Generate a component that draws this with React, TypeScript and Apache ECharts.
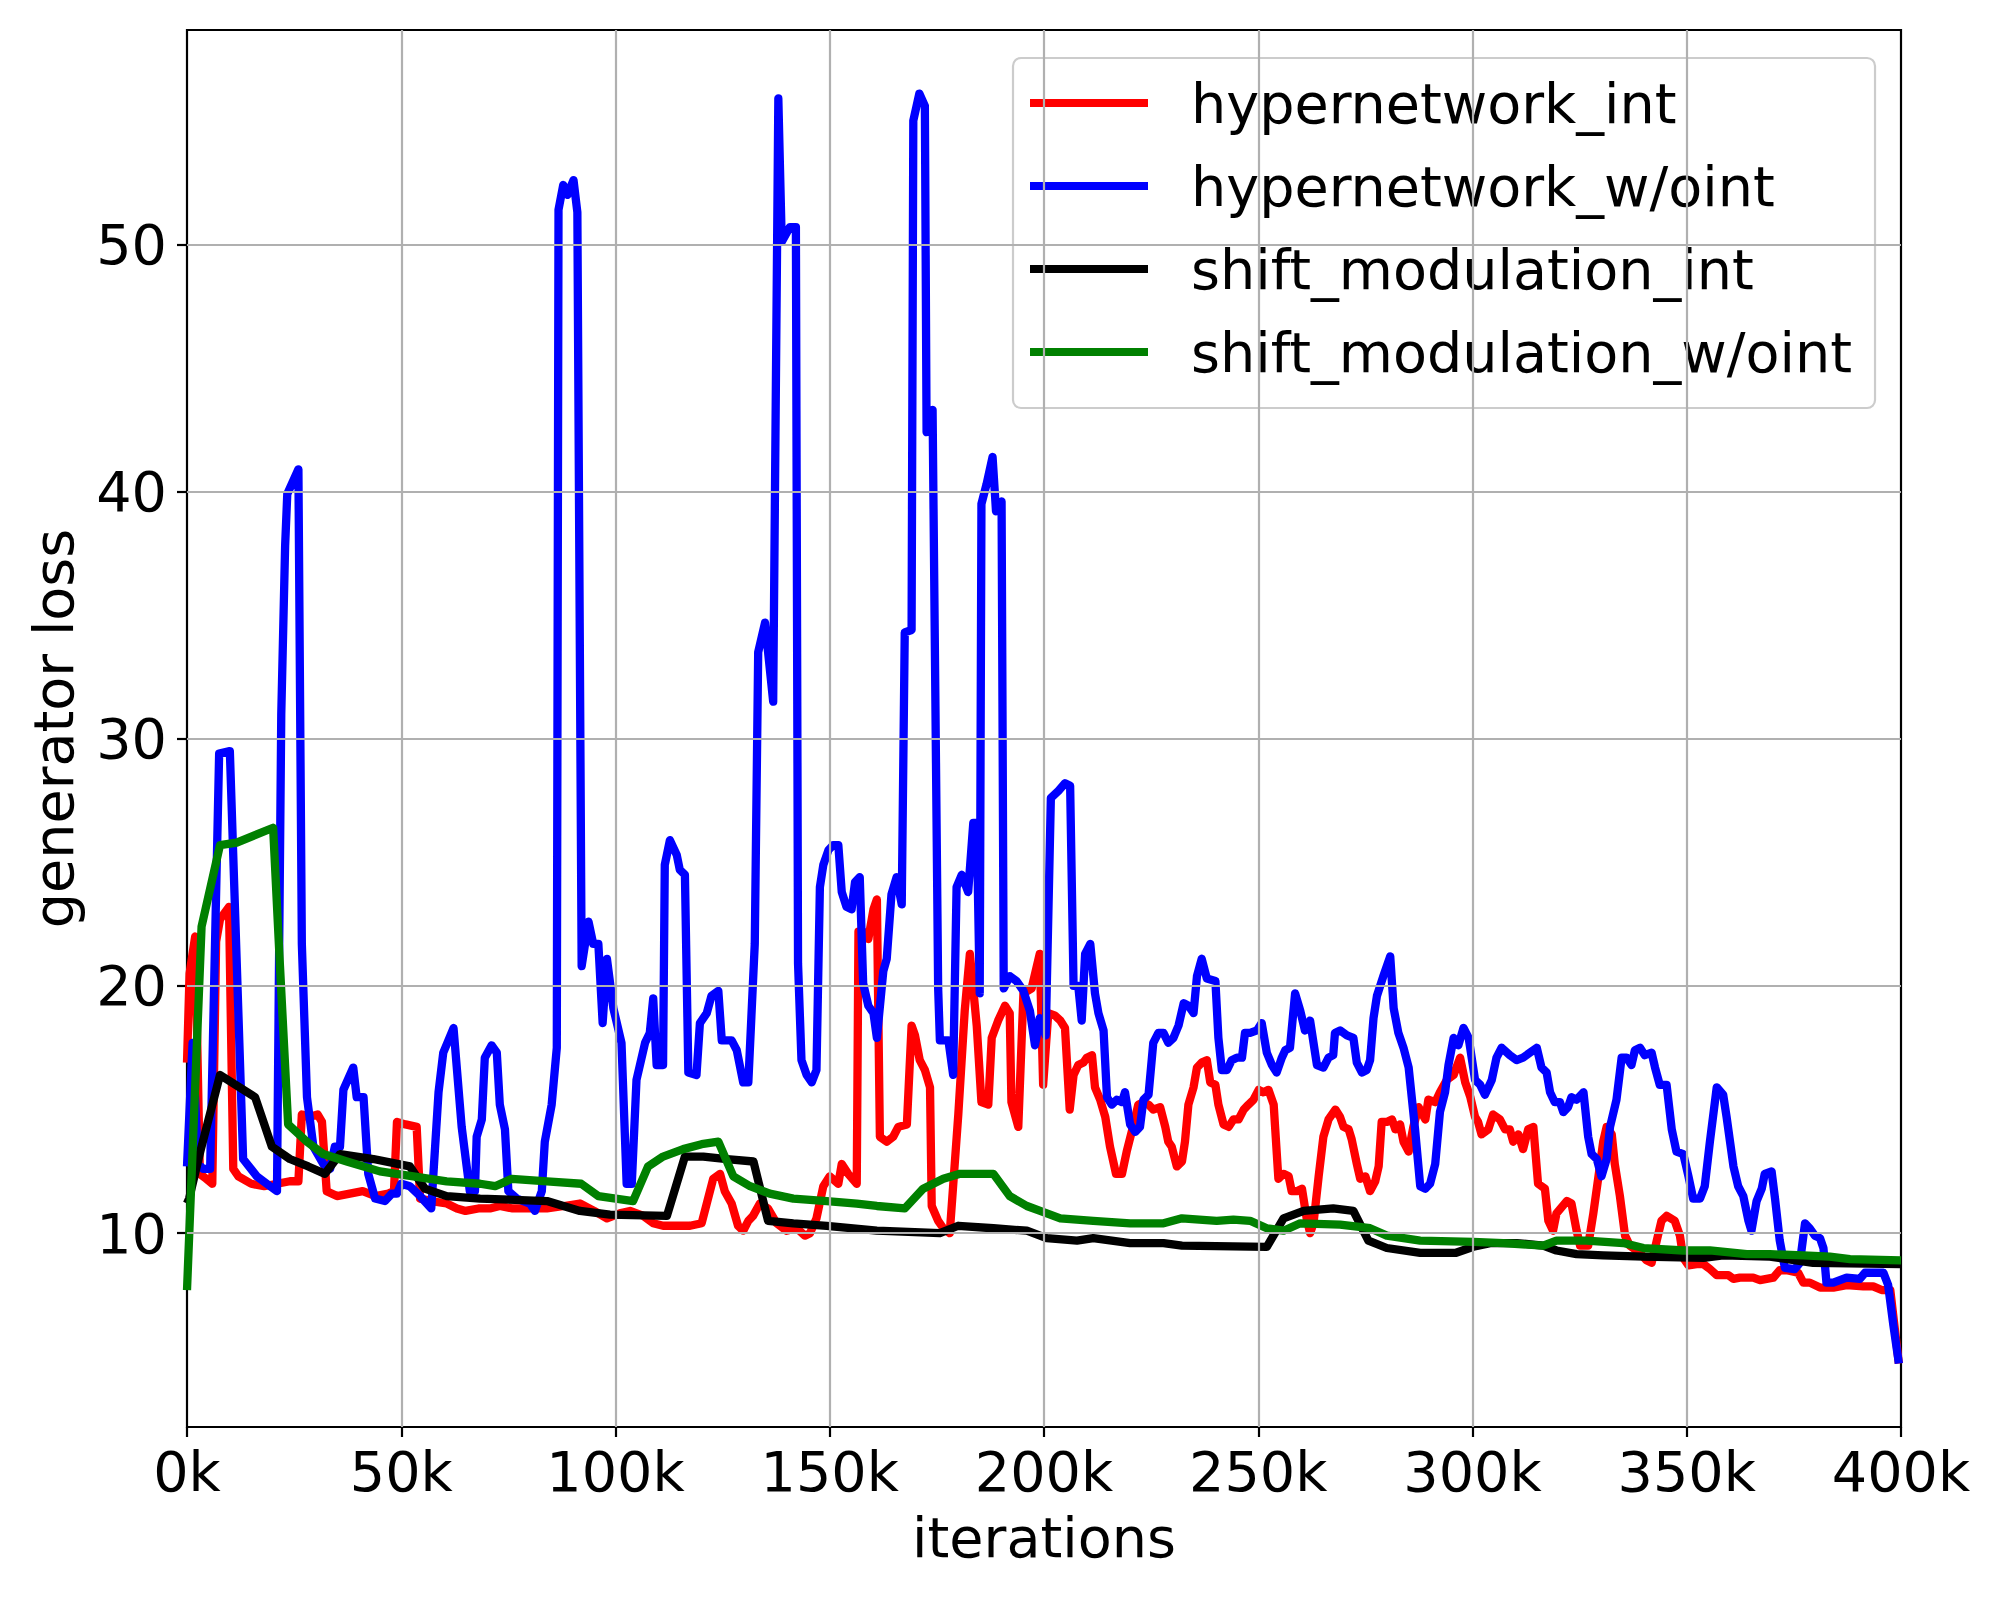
import React, { useEffect, useRef } from "react";
import * as echarts from "echarts";

const FONT = "DejaVu Sans";

const xTicks = [0, 50, 100, 150, 200, 250, 300, 350, 400];
const yTicks = [10, 20, 30, 40, 50];
const xGrid = [50, 100, 150, 200, 250, 300, 350];
const yGrid = [10, 20, 30, 40, 50];

const seriesNames = ["hypernetwork_int", "hypernetwork_w/oint", "shift_modulation_int", "shift_modulation_w/oint"];
const seriesColors = ["#ff0000", "#0000ff", "#000000", "#008000"];

// iterations (k), generator loss
const hypernetworkInt: [number, number][] = [
  [0, 16.9], [0.6, 20.5], [1.9, 22.0], [3.0, 12.4], [4.5, 12.2], [5.9, 12.0], [6.8, 21.8], [7.7, 22.7], [9.8, 23.2],
  [10.8, 12.6], [12, 12.3], [15, 12.0], [18, 11.9], [21, 12.0], [24, 12.1], [26, 12.1], [26.8, 14.8], [28.5, 14.7],
  [30.5, 14.8], [31.5, 14.5], [32.6, 11.7], [35, 11.5], [38, 11.6], [41, 11.7], [44, 11.5], [47, 11.6], [48.3, 11.7],
  [49, 14.5], [51, 14.4], [53.6, 14.3], [54.4, 11.4], [57, 11.3], [60.6, 11.2], [63, 11.0], [65, 10.9], [68, 11.0],
  [70.7, 11.0], [73, 11.1], [76, 11.0], [80, 11.0], [84, 11.0], [88, 11.1], [91.7, 11.2], [95, 10.9], [98, 10.6],
  [101, 10.8], [103.4, 10.9], [106.5, 10.7], [108.8, 10.4], [111.1, 10.3], [114, 10.3], [117.4, 10.3], [120.1, 10.4],
  [121.3, 11.2], [122.8, 12.2], [124.4, 12.4], [125.5, 11.7], [127.1, 11.2], [128.6, 10.3], [129.8, 10.1], [131, 10.5],
  [132.1, 10.7], [133.7, 11.2], [135.6, 11.0], [137.6, 10.4], [139.9, 10.1], [142.3, 10.2], [144.2, 9.9], [145.4, 10.0],
  [146.9, 10.6], [148.5, 11.9], [150, 12.3], [152, 12.0], [152.8, 12.8], [154.3, 12.4], [156.3, 12.0], [156.7, 22.2],
  [157.8, 22.2], [159, 21.9], [160.2, 23.1], [161, 23.5], [161.7, 13.9], [163.3, 13.7], [164.8, 13.9], [166, 14.3],
  [168, 14.4], [169.1, 18.4], [169.9, 18.0], [171, 17.0], [172.2, 16.6], [173.4, 15.9], [173.8, 11.1], [175.3, 10.5],
  [176.5, 10.2], [178, 10.0], [180, 14.8], [181.5, 19.0], [182.7, 21.3], [184.3, 18.4], [185.4, 15.3], [187, 15.2],
  [187.8, 17.9], [189.3, 18.6], [190.9, 19.2], [192, 18.9], [192.4, 15.3], [194, 14.3], [195.2, 19.7], [197.1, 19.9],
  [199, 21.3], [199.8, 16.0], [201, 18.9], [202.6, 18.8], [203.8, 18.6], [204.9, 18.3], [206, 15.0], [206.9, 16.4],
  [208, 16.8], [209.2, 16.9], [210, 17.1], [211.2, 17.2], [211.9, 15.9], [213.1, 15.4], [214.3, 14.7], [215.4, 13.5],
  [216.8, 12.4], [218.2, 12.4], [219.3, 13.3], [220.9, 14.4], [222, 15.2], [223.2, 15.3], [224.4, 15.2], [225.5, 15.0],
  [227.1, 15.1], [228.3, 14.3], [229, 13.7], [229.8, 13.5], [231, 12.7], [232.2, 12.9], [232.9, 13.7], [233.7, 15.2],
  [234.9, 15.9], [235.7, 16.7], [236.8, 16.9], [238, 17.0], [238.8, 16.1], [240, 16.0], [240.7, 15.2], [241.9, 14.4],
  [243.1, 14.3], [244.2, 14.6], [245.4, 14.6], [246.6, 15.0], [247.7, 15.2], [248.9, 15.4], [250.1, 15.8], [251.2, 15.7],
  [252.4, 15.8], [253.6, 15.2], [254.7, 12.2], [255.9, 12.4], [257.1, 12.3], [257.8, 11.7], [259, 11.7], [260.2, 11.8],
  [261.3, 10.6], [262.1, 10.0], [262.9, 10.4], [264.1, 12.3], [265.2, 13.9], [266.4, 14.6], [268, 15.0], [269.1, 14.7],
  [269.9, 14.3], [271.1, 14.2], [271.8, 13.8], [273, 12.8], [273.8, 12.2], [275, 12.3], [276.1, 11.7], [277.3, 12.1],
  [278.1, 12.7], [278.8, 14.5], [280, 14.5], [281.2, 14.6], [282, 14.2], [283.1, 14.4], [283.9, 13.7], [285.1, 13.3],
  [286.2, 14.3], [287.4, 15.1], [289, 14.6], [289.7, 15.4], [291.3, 15.3], [292.4, 15.7], [294, 16.2], [295.6, 16.4],
  [297.1, 17.1], [298.3, 16.1], [299.5, 15.5], [300.6, 14.7], [301.3, 14.5], [302.1, 14.0], [303.7, 14.2], [304.8, 14.8],
  [306.4, 14.6], [307.6, 14.2], [308.7, 14.2], [309.5, 13.7], [310.7, 14.0], [311.8, 13.4], [313, 14.2], [314.2, 14.3],
  [315.3, 12.0], [316.9, 11.8], [317.7, 10.5], [318.8, 10.1], [319.6, 10.8], [322, 11.3], [323.1, 11.2], [324.3, 10.1],
  [325.1, 9.5], [327, 9.5], [328.2, 10.8], [329.4, 12.3], [330.5, 13.7], [331.3, 14.3], [332.5, 14.0], [333.2, 12.8],
  [334.4, 11.5], [335.6, 9.9], [336.7, 9.5], [339.1, 9.2], [340.6, 8.9], [341.8, 8.8], [343, 9.7], [344.1, 10.5],
  [345.3, 10.7], [347.2, 10.5], [348.4, 9.9], [349.2, 9.0], [350.4, 8.7], [352.3, 8.75], [353.9, 8.75], [355.4, 8.55],
  [357, 8.3], [359.7, 8.3], [360.9, 8.15], [362.4, 8.2], [365.5, 8.2], [367.1, 8.1], [370.2, 8.2], [371.7, 8.5],
  [373.3, 8.5], [376, 8.4], [377.2, 8.0], [378.7, 8.0], [381.1, 7.8], [384.2, 7.8], [387.3, 7.9], [391.2, 7.85],
  [393.5, 7.85], [395.5, 7.7], [397.5, 7.7], [399.5, 4.73],
];

const hypernetworkWoint: [number, number][] = [
  [0, 12.7], [1.3, 17.7], [2.6, 12.8], [3.8, 12.6], [5.4, 12.6], [7.5, 29.4], [10, 29.5], [13.1, 13.0], [16.3, 12.3],
  [19.4, 11.9], [21, 11.7], [22, 31.0], [22.9, 37.8], [23.4, 39.9], [26, 40.9], [26.8, 21.7], [28, 15.5],
  [29.5, 13.5], [31.8, 12.8], [33.4, 12.6], [34.5, 13.5], [35.7, 13.5], [36.5, 15.8], [38.8, 16.7], [39.6, 15.5],
  [41.2, 15.5], [42.3, 12.4], [43.9, 11.4], [46.2, 11.3], [47.8, 11.6], [49, 11.6], [50, 12.0], [52, 11.9], [54.4, 11.5],
  [57, 11.0], [58.7, 15.7], [59.8, 17.3], [62.2, 18.3], [64.1, 14.3], [66, 11.7], [67.2, 11.7], [67.6, 13.9], [68.8, 14.6],
  [69.5, 17.1], [71.1, 17.6], [72.3, 17.3], [73, 15.2], [74.2, 14.2], [75, 11.7], [77, 11.4], [80, 11.2], [81.2, 10.9],
  [82.8, 11.7], [83.5, 13.7], [85.1, 15.2], [86.3, 17.5], [86.7, 51.4], [87.8, 52.4], [88.8, 52.0], [90.2, 52.6],
  [91.1, 51.3], [92.1, 20.8], [93.7, 22.6], [94.8, 21.7], [96, 21.7], [97, 18.5], [98, 21.1], [99.5, 19.1], [101.4, 17.7],
  [102.6, 12.0], [103.8, 12.0], [104.9, 16.2], [106.9, 17.7], [108, 18.1], [108.8, 19.5], [109.6, 16.8], [111.1, 16.8],
  [111.5, 24.9], [112.7, 25.9], [114.3, 25.3], [115, 24.7], [116.2, 24.5], [117, 16.5], [118.9, 16.4], [119.7, 18.5],
  [121.3, 18.9], [122.4, 19.6], [124, 19.8], [124.8, 17.8], [127.1, 17.8], [128.3, 17.4], [129.8, 16.1], [131, 16.1],
  [132.5, 21.7], [133.3, 33.5], [134.9, 34.7], [136.8, 31.5], [138, 55.9], [138.8, 50.1], [140.7, 50.7], [142.1, 50.7],
  [142.6, 20.9], [143.4, 17.0], [144.6, 16.4], [145.8, 16.1], [146.9, 16.6], [147.7, 24.0], [148.5, 24.9], [149.7, 25.5],
  [150.8, 25.7], [152, 25.7], [152.8, 23.8], [153.9, 23.2], [155.1, 23.1], [155.9, 24.2], [157, 24.4], [157.8, 20.1],
  [159, 19.2], [160.2, 18.9], [161, 17.9], [162.5, 20.6], [163.3, 21.1], [164.4, 23.7], [165.6, 24.4], [166.8, 23.3],
  [167.5, 34.3], [169.1, 34.4], [169.5, 55.0], [170.9, 56.1], [172.2, 55.6], [172.6, 42.4], [174, 43.3], [175.3, 19.9],
  [175.7, 17.8], [177.7, 17.8], [178.8, 16.4], [179.6, 24.0], [180.8, 24.5], [182.3, 23.8], [183.5, 26.6], [184.3, 26.6],
  [185, 19.7], [185.4, 39.5], [186.6, 40.3], [188, 41.4], [188.8, 39.2], [190.1, 39.6], [190.6, 19.9], [192, 20.4],
  [193.6, 20.2], [195.2, 19.8], [196.7, 19.0], [197.9, 17.6], [199, 18.7], [200.4, 18.0], [201.6, 27.6], [203.4, 27.9],
  [204.9, 28.2], [206.1, 28.1], [206.9, 20.0], [208, 20.0], [208.8, 18.6], [209.6, 21.3], [210.8, 21.7], [211.9, 19.7],
  [212.7, 18.9], [213.9, 18.2], [214.7, 15.5], [215.8, 15.2], [217, 15.4], [218.2, 15.3], [218.9, 15.7], [220.1, 14.4],
  [221.3, 14.1], [222.4, 14.3], [223.2, 15.4], [224.4, 15.6], [225.5, 17.7], [226.7, 18.1], [227.9, 18.1], [229, 17.7],
  [230.2, 17.9], [231.4, 18.4], [232.6, 19.3], [233.7, 19.2], [234.9, 18.9], [235.7, 20.4], [236.8, 21.1], [238, 20.3],
  [240, 20.2], [240.7, 17.9], [241.5, 16.6], [242.7, 16.6], [243.8, 17.0], [245, 17.1], [246.2, 17.1], [246.9, 18.1],
  [248.1, 18.1], [249.7, 18.2], [250.8, 18.5], [252, 17.3], [253.2, 16.8], [254.3, 16.5], [255.5, 17.1], [256.3, 17.4],
  [257.4, 17.5], [258.6, 19.7], [259.8, 19.0], [260.9, 18.2], [262.1, 18.6], [263.7, 16.8], [265.2, 16.7], [266.4, 17.1],
  [267.5, 17.2], [267.9, 18.1], [269.1, 18.2], [270.7, 18.0], [272.2, 17.9], [273, 16.9], [274.2, 16.5], [275.3, 16.6],
  [276.1, 17.0], [276.9, 18.7], [277.7, 19.6], [279.2, 20.4], [280.8, 21.2], [281.6, 19.1], [282.7, 18.1], [283.9, 17.5],
  [285.1, 16.7], [286.6, 14.2], [287.8, 11.9], [289, 11.8], [290.1, 12.0], [291.3, 12.8], [292.4, 14.9], [293.6, 15.7],
  [294.4, 16.8], [295.6, 17.9], [296.7, 17.6], [297.9, 18.3], [299.1, 17.9], [300.6, 16.2], [301.8, 16.0], [302.9, 15.6],
  [304.5, 16.2], [305.6, 17.1], [306.8, 17.5], [308.7, 17.2], [310.3, 17.0], [311.8, 17.1], [313.4, 17.3], [315, 17.5],
  [316.1, 16.7], [317.3, 16.5], [318.1, 15.7], [319.2, 15.3], [320.4, 15.3], [321.2, 14.9], [322.3, 15.1], [323.1, 15.5],
  [324.3, 15.4], [325.9, 15.7], [327, 13.9], [327.8, 13.2], [329, 13.0], [330.1, 12.3], [331.3, 13.0], [332.1, 14.3],
  [333.6, 15.4], [334.8, 17.1], [336, 17.1], [337.1, 16.8], [337.9, 17.4], [339.1, 17.5], [340.2, 17.2], [341.8, 17.3],
  [342.6, 16.7], [343.7, 16.0], [345.3, 16.0], [346.5, 14.2], [347.6, 13.3], [349.2, 13.2], [350.4, 12.3], [351.5, 11.4],
  [353.1, 11.4], [354.2, 11.9], [355.4, 13.7], [357, 15.9], [358.5, 15.6], [359.3, 14.7], [360.9, 12.7], [362, 11.9],
  [363.2, 11.5], [364.4, 10.5], [365.1, 10.1], [366.3, 11.3], [367.5, 11.8], [368.2, 12.4], [369.8, 12.5], [370.6, 11.4],
  [371.7, 9.7], [372.9, 8.6], [375.2, 8.55], [376.4, 8.8], [377.6, 10.4], [378.7, 10.2], [379.9, 9.9], [381.1, 9.8],
  [381.9, 9.4], [382.6, 8.0], [384.2, 8.0], [387.3, 8.2], [390.4, 8.15], [391.6, 8.4], [395.9, 8.4], [397, 7.9],
  [398.2, 6.3], [399.5, 4.73],
];

const shiftModulationInt: [number, number][] = [
  [0, 11.2], [0.5, 11.4], [3.1, 13.3], [7.7, 16.4], [15.9, 15.5], [19.8, 13.5], [24, 13.0], [28.3, 12.7], [32.2, 12.4], [35.7, 13.2],
  [43.5, 13.0], [52, 12.7], [55.5, 11.8], [60.6, 11.5], [68.4, 11.4], [84, 11.3], [91.7, 10.9], [98.7, 10.75],
  [112, 10.7], [116.2, 13.1], [120.5, 13.1], [126, 13.0], [132.2, 12.9], [135.6, 10.5], [141.5, 10.4], [149.3, 10.3],
  [161, 10.1], [175.7, 10.0], [180, 10.3], [188.2, 10.2], [196, 10.1], [200.6, 9.8], [207.7, 9.7], [211.5, 9.8],
  [220.1, 9.6], [227.9, 9.6], [232.2, 9.5], [252, 9.45], [255.9, 10.6], [260.6, 10.9], [267.5, 11.0], [272.2, 10.9],
  [275.7, 9.7], [280, 9.4], [287.8, 9.2], [296, 9.2], [300.2, 9.45], [304.1, 9.6], [310.3, 9.6], [316.5, 9.5],
  [319.6, 9.3], [324.3, 9.15], [330.5, 9.1], [339.9, 9.05], [353.9, 9.0], [358.5, 9.1], [369.4, 9.05], [379.5, 8.8],
  [400, 8.75],
];

const shiftModulationWoint: [number, number][] = [
  [0, 7.7], [3.4, 22.4], [7.7, 25.7], [11.6, 25.8], [20.1, 26.4], [21.7, 20.8], [23.6, 14.4], [28, 13.7], [31.8, 13.2],
  [37.3, 12.9], [45, 12.5], [52.8, 12.3], [60.6, 12.1], [68.4, 12.0], [71.9, 11.9], [75.8, 12.2], [84, 12.1], [92, 12.0],
  [96, 11.5], [104.1, 11.3], [107.6, 12.7], [111.1, 13.1], [115.8, 13.4], [120.1, 13.6], [124, 13.7], [127.5, 12.3],
  [131.4, 11.9], [136, 11.6], [141.5, 11.4], [149.3, 11.3], [156.3, 11.2], [161, 11.1], [167.5, 11.0], [171.8, 11.8],
  [176.5, 12.2], [180.4, 12.4], [184.3, 12.4], [188.2, 12.4], [192, 11.5], [196, 11.1], [199.1, 10.9], [203.8, 10.6],
  [211.5, 10.5], [220.1, 10.4], [227.9, 10.4], [232.2, 10.6], [240.3, 10.5], [244.2, 10.55], [248.1, 10.5], [252, 10.2],
  [255.9, 10.1], [259.8, 10.4], [269.1, 10.35], [276.1, 10.2], [280, 9.9], [287.8, 9.7], [300.2, 9.65], [307.2, 9.6],
  [316.5, 9.5], [319.6, 9.7], [326.6, 9.7], [335.2, 9.6], [339.9, 9.4], [349.2, 9.3], [355.4, 9.3], [364, 9.15],
  [369.4, 9.15], [377.2, 9.1], [383.4, 9.05], [388.1, 8.95], [400, 8.9],
];

const seriesData = [hypernetworkInt, hypernetworkWoint, shiftModulationInt, shiftModulationWoint];

const FS = 55.6;

export default function App() {
  const ref = useRef<HTMLDivElement>(null);
  useEffect(() => {
    document.body.style.margin = "0";
    const chart = echarts.init(ref.current as HTMLDivElement, null, { renderer: "svg", width: 2000, height: 1600 });
    const lineSeries = seriesNames.map((name, i) => ({
      name,
      type: "line",
      data: seriesData[i],
      symbol: "none",
      showSymbol: false,
      z: 3,
      color: seriesColors[i],
      lineStyle: { color: seriesColors[i], width: 8.3, join: "round", cap: "butt" },
      emphasis: { disabled: true },
      silent: true,
    }));
    const option: any = {
      animation: false,
      backgroundColor: "#ffffff",
      textStyle: { fontFamily: FONT },
      grid: {
        left: 187,
        top: 30,
        width: 1714,
        height: 1397,
        show: true,
        borderColor: "#000000",
        borderWidth: 2.2,
        backgroundColor: "transparent",
        containLabel: false,
      },
      legend: {
        data: seriesNames,
        orient: "vertical",
        left: 1013,
        top: 58,
        padding: [15, 23, 26, 17],
        itemWidth: 118,
        itemHeight: 8,
        itemGap: 23,
        icon: "rect",
        backgroundColor: "rgba(255,255,255,0.8)",
        borderColor: "#cccccc",
        borderWidth: 2.2,
        borderRadius: 8,
        selectedMode: false,
        textStyle: {
          fontFamily: FONT,
          fontSize: FS,
          color: "#000000",
          lineHeight: 60,
          padding: [0, 0, 0, 38],
        },
      },
      xAxis: {
        type: "value",
        min: 0,
        max: 400,
        interval: 50,
        name: "iterations",
        nameLocation: "middle",
        nameGap: 82,
        nameTextStyle: { fontFamily: FONT, fontSize: FS, color: "#000000" },
        axisLine: { show: false, onZero: false },
        axisTick: { show: true, length: 10, lineStyle: { color: "#000000", width: 2.2 } },
        axisLabel: {
          fontFamily: FONT,
          fontSize: FS,
          color: "#000000",
          margin: 16,
          formatter: (v: number) => (xTicks.includes(v) ? `${v}k` : ""),
        },
        splitLine: { show: false },
      },
      yAxis: {
        type: "value",
        min: 2.16,
        max: 58.67,
        name: "generator loss",
        nameLocation: "middle",
        nameGap: 106,
        nameTextStyle: { fontFamily: FONT, fontSize: FS, color: "#000000" },
        axisLine: { show: false, onZero: false },
        axisTick: { show: true, length: 10, customValues: yTicks, lineStyle: { color: "#000000", width: 2.2 } },
        axisLabel: {
          fontFamily: FONT,
          fontSize: FS,
          color: "#000000",
          margin: 20,
          customValues: yTicks,
          formatter: (v: number) => `${v}`,
        },
        splitLine: { show: false },
      },
      series: [
        {
          name: "__grid",
          type: "line",
          data: [[0, 10]],
          symbol: "none",
          showSymbol: false,
          lineStyle: { width: 0, opacity: 0 },
          silent: true,
          z: 1,
          markLine: {
            silent: true,
            animation: false,
            symbol: ["none", "none"],
            label: { show: false },
            emphasis: { disabled: true },
            lineStyle: { color: "#b0b0b0", width: 2.2, type: "solid" },
            data: [
              ...yGrid.map((v) => ({ yAxis: v })),
              ...xGrid.map((v) => ({ xAxis: v })),
            ],
          },
        },
        ...lineSeries,
      ],
    };
    chart.setOption(option);
    return () => chart.dispose();
  }, []);
  return <div ref={ref} style={{ width: 2000, height: 1600 }} />;
}
